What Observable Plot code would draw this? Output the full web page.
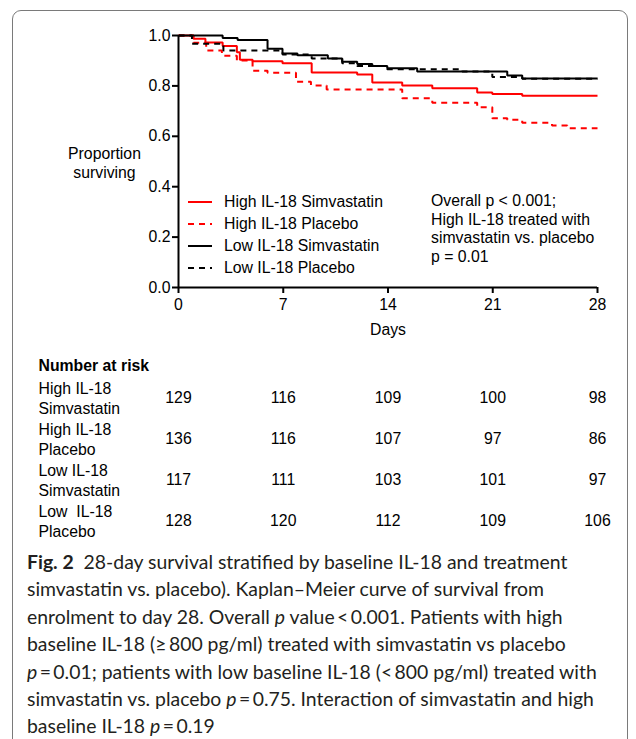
<!DOCTYPE html>
<html>
<head>
<meta charset="utf-8">
<script src="https://cdn.jsdelivr.net/npm/d3@7"></script>
<script src="https://cdn.jsdelivr.net/npm/@observablehq/plot@0.6"></script>
<style>
  html, body { margin: 0; padding: 0; background: #fff; }
  body { width: 636px; height: 739px; position: relative; overflow: hidden; }
  #frame { position: absolute; left: 12px; top: 10px; width: 616px; height: 760px;
           border: 1.5px solid #7a7a7a; border-radius: 9px; box-sizing: border-box; }
  #chart { position: absolute; left: 0; top: 0; }
  #table { position: absolute; left: 0; top: 350px; }
  .lbl { position: absolute; font-family: "Liberation Sans", Arial, sans-serif; font-size: 15.8px; color: #000; white-space: nowrap; }
  #legend .row { position: absolute; left: 188px; height: 20px; }
  #legend svg { position: absolute; left: 0; top: 0; }
  #legend span { position: absolute; left: 36px; top: 1px; }
  #annot { left: 431px; top: 192px; line-height: 18.6px; }
  #caption { position: absolute; left: 27px; top: 548px; font-family: Lato, "Noto Sans", sans-serif;
             font-size: 19.4px; line-height: 27.4px; color: #231f20; white-space: nowrap; }
  #caption b { font-weight: 700; }
</style>
</head>
<body>
<div id="frame"></div>
<div id="chart"></div>
<div id="table"></div>
<div id="legend"></div>
<div id="annot" class="lbl"></div>
<div id="caption"></div>
<script>
// ---------- data ----------
const xTicks = [0, 7, 14, 21, 28];
const yTicks = [0, 0.2, 0.4, 0.6, 0.8, 1.0];

const seriesNames = ["High IL-18 Simvastatin", "High IL-18 Placebo", "Low IL-18 Simvastatin", "Low IL-18 Placebo"];
const seriesColors = ["#ff0000", "#ff0000", "#000000", "#000000"];
const seriesDashed = [false, true, false, true];

const hiSimDays = [0, 1.0, 1.8, 2.95, 3.9, 4.1, 4.95, 6.95, 8.9, 11.94, 12.95, 14.95, 16.96, 19.96, 20.97, 22.97, 28];
const hiSimSurv = [1.0, 0.987, 0.972, 0.958, 0.934, 0.904, 0.898, 0.890, 0.853, 0.845, 0.813, 0.802, 0.791, 0.774, 0.768, 0.761, 0.761];

const hiPlaDays = [0, 1.0, 1.85, 2.9, 3.9, 4.95, 5.95, 7.85, 8.85, 9.9, 14.95, 16.96, 19.96, 20.97, 21.97, 22.97, 24.96, 25.98, 28];
const hiPlaSurv = [1.0, 0.971, 0.940, 0.920, 0.901, 0.860, 0.852, 0.816, 0.802, 0.786, 0.751, 0.733, 0.715, 0.672, 0.666, 0.654, 0.643, 0.632, 0.632];

const loSimDays = [0, 2.95, 3.95, 5.95, 6.95, 7.95, 9.98, 10.94, 11.94, 12.95, 13.95, 15.95, 21.97, 22.97, 28];
const loSimSurv = [1.0, 0.990, 0.982, 0.947, 0.929, 0.922, 0.909, 0.896, 0.887, 0.879, 0.870, 0.857, 0.841, 0.829, 0.829];

const loPlaDays = [0, 0.9, 3.0, 6.95, 8.9, 10.94, 11.94, 13.95, 18.96, 20.97, 22.97, 28];
const loPlaSurv = [1.0, 0.967, 0.940, 0.925, 0.909, 0.890, 0.879, 0.866, 0.857, 0.835, 0.828, 0.828];

const riskDays = [0, 7, 14, 21, 28];
const riskRowLabels = ["High IL-18\nSimvastatin", "High IL-18\nPlacebo", "Low IL-18\nSimvastatin", "Low  IL-18\nPlacebo"];
const riskHiSim = [129, 116, 109, 100, 98];
const riskHiPla = [136, 116, 107, 97, 86];
const riskLoSim = [117, 111, 103, 101, 97];
const riskLoPla = [128, 120, 112, 109, 106];

const yLabel = "Proportion\nsurviving";
const xLabel = "Days";
const riskTitle = "Number at risk";
const annotLines = ["Overall p < 0.001;", "High IL-18 treated with", "simvastatin vs. placebo", "p = 0.01"];

// ---------- build ----------
const curves = [
  [hiSimDays, hiSimSurv], [hiPlaDays, hiPlaSurv], [loSimDays, loSimSurv], [loPlaDays, loPlaSurv]
].map(([d, s], i) => d.map((day, j) => ({day, surv: s[j], series: seriesNames[i]})));

const font = "'Liberation Sans', Arial, sans-serif";
const fs = 15.8;
const drawOrder = [1, 0, 2, 3];

const chart = Plot.plot({
  width: 636, height: 345,
  marginLeft: 178, marginRight: 39, marginTop: 35, marginBottom: 58,
  style: {fontFamily: font, fontSize: fs + "px", color: "#000", background: "transparent", overflow: "visible"},
  x: {domain: [0, 28]},
  y: {domain: [0, 1]},
  marks: [
    ...drawOrder.map(i => Plot.line(curves[i], {
      x: "day", y: "surv", curve: "step-after",
      stroke: seriesColors[i], strokeWidth: 2,
      strokeDasharray: seriesDashed[i] ? "6,5" : null,
      strokeLinecap: "butt", strokeLinejoin: "miter"
    })),
    Plot.ruleX([0], {strokeWidth: 2}),
    Plot.ruleY([0], {strokeWidth: 2}),
    Plot.axisY({ticks: yTicks, tickSize: 6, tickPadding: 2, tickFormat: d3.format(".1f"), label: null, strokeWidth: 2, fontSize: fs}),
    Plot.axisX({ticks: xTicks, tickSize: 6, tickPadding: 5, label: xLabel, labelAnchor: "center", labelArrow: "none", labelOffset: 47, strokeWidth: 2, fontSize: fs}),
    Plot.text([yLabel], {frameAnchor: "left", dx: -74, dy: 1, textAnchor: "middle", lineHeight: 1.2, fontSize: fs})
  ]
});
document.getElementById("chart").appendChild(chart);

const riskSeries = [riskHiSim, riskHiPla, riskLoSim, riskLoPla];
const riskData = riskSeries.flatMap((vals, i) => vals.map((n, j) => ({day: riskDays[j], row: seriesNames[i], n})));
const rowData = seriesNames.map((s, i) => ({row: s, label: riskRowLabels[i]}));

const table = Plot.plot({
  width: 636, height: 192,
  marginLeft: 178, marginRight: 39, marginTop: 25, marginBottom: 0,
  style: {fontFamily: font, fontSize: fs + "px", color: "#000", background: "transparent", overflow: "visible"},
  x: {domain: [0, 28], axis: null},
  y: {type: "point", domain: seriesNames, padding: 0.5, axis: null},
  marks: [
    Plot.text(riskData, {x: "day", y: "row", text: d => String(d.n), fontSize: fs}),
    Plot.text(rowData, {y: "row", text: "label", frameAnchor: "left", dx: -140, textAnchor: "start", lineHeight: 1.25, fontSize: fs}),
    Plot.text([riskTitle], {frameAnchor: "top-left", dx: -140, dy: -16, textAnchor: "start", fontWeight: "bold", fontSize: fs})
  ]
});
document.getElementById("table").appendChild(table);

// legend (HTML)
const legend = document.getElementById("legend");
const legendTops = [192, 214, 236, 258];
seriesNames.forEach((name, i) => {
  const row = document.createElement("div");
  row.className = "row lbl";
  row.style.top = legendTops[i] + "px";
  row.innerHTML = `<svg width="26" height="20"><line x1="0" x2="24" y1="10" y2="10" stroke="${seriesColors[i]}" stroke-width="2" ${seriesDashed[i] ? 'stroke-dasharray="6,5"' : ''}/></svg><span>${name}</span>`;
  legend.appendChild(row);
});

document.getElementById("annot").innerHTML = annotLines.join("<br>");

const captionLines = [
  "<b>Fig. 2</b>&nbsp; 28-day survival stratified by baseline IL-18 and treatment",
  "simvastatin vs. placebo). Kaplan–Meier curve of survival from",
  "enrolment to day 28. Overall <i>p</i> value&thinsp;&lt;&thinsp;0.001. Patients with high",
  "baseline IL-18 (≥&thinsp;800 pg/ml) treated with simvastatin vs placebo",
  "<i>p</i>&thinsp;=&thinsp;0.01; patients with low baseline IL-18 (&lt;&thinsp;800 pg/ml) treated with",
  "simvastatin vs. placebo <i>p</i>&thinsp;=&thinsp;0.75. Interaction of simvastatin and high",
  "baseline IL-18 <i>p</i>&thinsp;=&thinsp;0.19"
];
document.getElementById("caption").innerHTML = captionLines.map(l => `<div>${l}</div>`).join("");
</script>
</body>
</html>
